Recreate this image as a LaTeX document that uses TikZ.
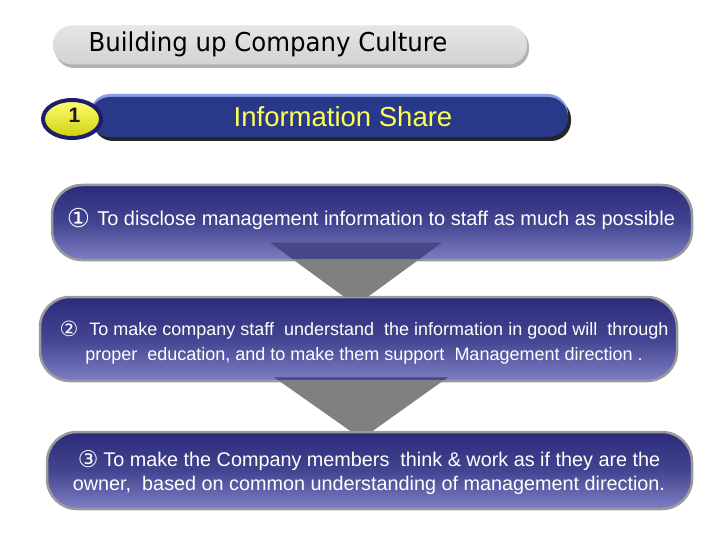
\documentclass[tikz,border=0pt]{standalone}
\usepackage{fontspec}
\setmainfont{Liberation Sans}
\newfontfamily\dvs{DejaVu Sans}
\usetikzlibrary{shapes.geometric,calc}
\definecolor{boxtop}{HTML}{2A2C7A}
\definecolor{boxbot}{HTML}{7E7EC4}
\definecolor{boxborder}{HTML}{9A9A9A}
\definecolor{arrowgray}{HTML}{808080}
\definecolor{arrowin}{HTML}{47478A}
\definecolor{headblue}{HTML}{29398A}
\definecolor{headrim}{HTML}{8A9EE6}
\definecolor{headtext}{HTML}{FFFF55}
\definecolor{circrim}{HTML}{1C1F66}
\definecolor{circtop}{HTML}{FFFF70}
\definecolor{circbot}{HTML}{CFCF10}
\newcommand{\circnum}[3]{\raisebox{#2}{\dvs\fontsize{#1}{#1}\selectfont #3}}
\tikzset{
  stepbox/.style={rectangle, rounded corners=30pt, draw=boxborder, line width=2.5pt,
    top color=boxtop, bottom color=boxbot, middle color=boxtop!70!boxbot, inner sep=0pt},
  steptext/.style={text=white, align=center, inner sep=0pt},
  blockarrow/.style={fill=arrowgray, draw=none},
}
\begin{document}
\begin{tikzpicture}[x=1pt,y=-1pt]
\useasboundingbox (0,0) rectangle (720,540);
\fill[white] (0,0) rectangle (720,540);

% title bar
\fill[gray!60, rounded corners=19pt] (55,28) rectangle (529,68);
\node[rectangle, rounded corners=19pt, minimum width=474pt, minimum height=39pt,
  top color=gray!20, middle color=white, bottom color=gray!35, inner sep=0pt]
  (title) at (290,45) {};
\node[inner sep=0pt, font=\dvs\fontsize{26pt}{30pt}\selectfont] (titletext) at (268,44)
  {\scalebox{0.94}[1]{Building up Company Culture}};

% header bar
\fill[black!85, rounded corners=20pt] (93,99) rectangle (571,141);
\fill[headrim, rounded corners=20pt] (90,94) rectangle (568,134);
\node[rectangle, rounded corners=20pt, minimum width=478pt, minimum height=40pt,
  fill=headblue, inner sep=0pt] (head) at (329,117) {};
\node[text=headtext, inner sep=0pt, font=\fontsize{27.5pt}{30pt}\selectfont]
  (headtext) at (343,117) {Information Share};

% number badge
\node[ellipse, minimum width=58pt, minimum height=38pt, draw=circrim, line width=4pt,
  top color=circtop, bottom color=circbot, inner sep=0pt] (badge) at (72,119) {};
\node[inner sep=0pt, font=\bfseries\fontsize{21pt}{22pt}\selectfont, text=black!90]
  (num) at (74.5,115.5) {1};

% step boxes
\node[stepbox, minimum width=640pt, minimum height=75pt] (b1) at (372,222.5) {};
\node[stepbox, minimum width=637pt, minimum height=84pt] (b2) at (358.5,339) {};
\node[stepbox, minimum width=645pt, minimum height=77pt] (b3) at (369.5,470.5) {};

\node[steptext, font=\fontsize{20pt}{24pt}\selectfont] (t1) at (371,219)
  {\circnum{26pt}{-1.5pt}{①}\hspace{7pt}To disclose management information to staff as much as possible};
\node[steptext, font=\fontsize{18pt}{25pt}\selectfont] (t2) at (364,342.5)
  {\circnum{21pt}{-1pt}{②}\hspace{11pt}To make company staff\ \ understand\ \ the information in good will\ \ through\\
   proper\ \ education, and to make them support\ \ Management direction .};
\node[steptext, font=\fontsize{19.8pt}{24pt}\selectfont] (t3) at (369,473)
  {\circnum{23pt}{-1pt}{③}\hspace{5pt}To make the Company members\ \ think \& work as if they are the\\
   owner,\ \ based on common understanding of management direction.};

% block arrow 1 (b1 -> b2)
\coordinate (a1t) at ($(b1.south)+(-16,-19)$);
\coordinate (a1b) at ($(b2.north)+(-2.5,1)$);
\fill[blockarrow] ($(a1t)+(-86.5,0)$) -- ($(a1t)+(86.5,0)$) -- ($(a1b)+(12,0)$) -- ($(a1b)+(-12,0)$) -- cycle;
\begin{scope}
  \clip (0,0) rectangle (720,258.5);
  \fill[arrowin] ($(a1t)+(-86.5,0)$) -- ($(a1t)+(86.5,0)$) -- ($(a1b)+(12,0)$) -- ($(a1b)+(-12,0)$) -- cycle;
\end{scope}

% block arrow 2 (b2 -> b3)
\coordinate (a2t) at ($(b2.south)+(2.5,-5)$);
\coordinate (a2b) at ($(b3.north)+(-8,0)$);
\fill[blockarrow] ($(a2t)+(-87,0)$) -- ($(a2t)+(87,0)$) -- ($(a2b)+(11.5,0)$) -- ($(a2b)+(-11.5,0)$) -- cycle;
\begin{scope}
  \clip (0,0) rectangle (720,379);
  \fill[arrowin] ($(a2t)+(-87,0)$) -- ($(a2t)+(87,0)$) -- ($(a2b)+(11.5,0)$) -- ($(a2b)+(-11.5,0)$) -- cycle;
\end{scope}
\end{tikzpicture}
\end{document}
